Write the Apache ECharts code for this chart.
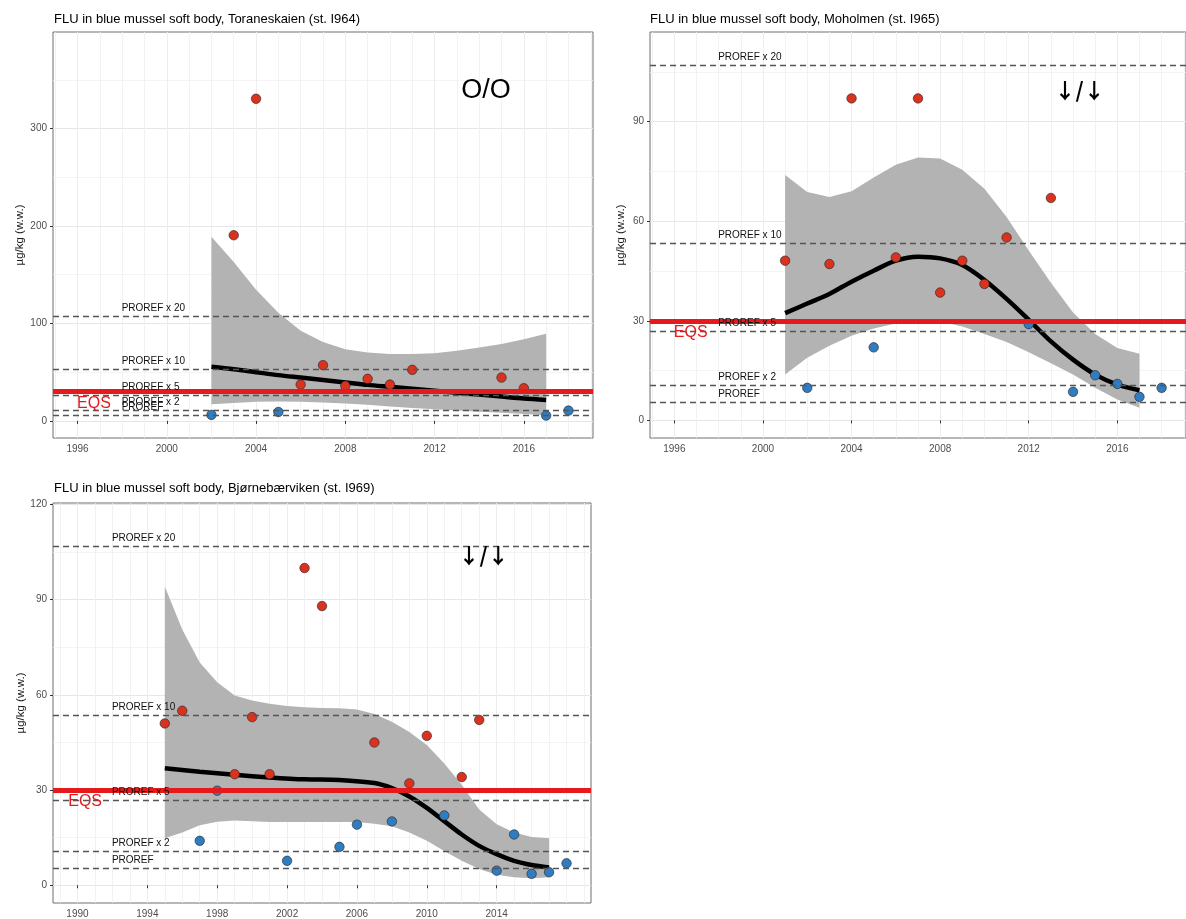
<!DOCTYPE html>
<html><head><meta charset="utf-8">
<script src="https://cdn.jsdelivr.net/npm/echarts@6/dist/echarts.min.js"></script>
<style>html,body{margin:0;padding:0;background:#fff}#c{width:1186px;height:919px}</style>
</head><body><div id="c"></div>
<script>
// ---------------- data ----------------
const titles = [
  "FLU in blue mussel soft body, Toraneskaien (st. I964)",
  "FLU in blue mussel soft body, Moholmen (st. I965)",
  "FLU in blue mussel soft body, Bjørnebærviken (st. I969)"
];
const yAxisTitle = "µg/kg (w.w.)";
const eqsValue = 30;
const prorefValues = [5.35, 10.7, 26.75, 53.5, 107];
const prorefNames = ["PROREF", "PROREF x 2", "PROREF x 5", "PROREF x 10", "PROREF x 20"];
const trendSymbols = ["O/O", "↓/↓", "↓/↓"];

// Panel 1: Toraneskaien
const p1Years  = [2002, 2003, 2004, 2005, 2006, 2007, 2008, 2009, 2010, 2011, 2015, 2016, 2017, 2018];
const p1Values = [6.2, 190.5, 330.5, 9.2, 37.3, 57.2, 36, 43.2, 37.3, 52.4, 44.5, 33.6, 5.5, 10.6];
const p1TrendYears = [2002, 2003, 2004, 2005, 2006, 2007, 2008, 2009, 2010, 2011, 2012, 2013, 2014, 2015, 2016, 2017];
const p1Trend      = [55.5, 53, 50, 47, 44.5, 42, 39.5, 37, 35, 33, 31, 29, 27, 25, 23, 21.5];
const p1Upper      = [189, 163, 134.5, 111, 92.5, 81, 73.6, 70.2, 68.8, 68.8, 69.5, 71.9, 75.3, 79, 83.9, 89.4];
const p1Lower      = [17, 18.5, 19.8, 20, 19.8, 19, 18, 16.5, 14.7, 13.3, 12, 10.7, 9.5, 8.3, 7.2, 5.8];

// Panel 2: Moholmen
const p2Years  = [2001, 2002, 2003, 2004, 2005, 2006, 2007, 2008, 2009, 2010, 2011, 2012, 2013, 2014, 2015, 2016, 2017, 2018];
const p2Values = [48.1, 9.8, 47.1, 97, 22, 49.1, 97, 38.5, 48.1, 41.1, 55.1, 29, 67, 8.6, 13.6, 11, 7.1, 9.8];
const p2TrendYears = [2001, 2002, 2003, 2004, 2005, 2006, 2007, 2008, 2009, 2010, 2011, 2012, 2013, 2014, 2015, 2016, 2017];
const p2Trend      = [32.3, 35.2, 38.1, 41.8, 45.1, 48.1, 49.3, 48.8, 46.8, 42.3, 36.6, 30.3, 23.8, 18.3, 13.8, 10.8, 9.1];
const p2Upper      = [73.9, 68.8, 67.3, 69, 73.2, 77, 79.2, 78.9, 75.5, 69.8, 61.3, 51.2, 41.5, 32.5, 26, 21.8, 20.1];
const p2Lower      = [13.8, 18.9, 22.5, 25.5, 27.7, 29.2, 29.9, 29.8, 28.3, 26, 23.6, 20.5, 17.2, 13.8, 9.8, 6.3, 3.8];

// Panel 3: Bjørnebærviken
const p3Years  = [1995, 1996, 1997, 1998, 1999, 2000, 2001, 2002, 2003, 2004, 2005, 2006, 2007, 2008, 2009, 2010, 2011, 2012, 2013, 2014, 2015, 2016, 2017, 2018];
const p3Values = [51, 55, 14, 29.8, 35, 53, 35, 7.7, 100, 88, 12.1, 19.1, 45, 20.1, 32.1, 47.1, 22, 34.1, 52.1, 4.6, 16, 3.6, 4.1, 6.9];
const p3TrendYears = [1995, 1997, 1999, 2001, 2003, 2005, 2007, 2008, 2009, 2010, 2011, 2012, 2013, 2014, 2015, 2016, 2017];
const p3Trend      = [36.9, 35.8, 34.8, 34, 33.4, 33.2, 32.2, 30.6, 28, 24.4, 20.2, 16, 12.4, 9.8, 7.7, 6.4, 5.6];
const p3BandYears  = [1995, 1996, 1997, 1998, 1999, 2000, 2001, 2002, 2003, 2004, 2005, 2006, 2007, 2008, 2009, 2010, 2011, 2012, 2013, 2014, 2015, 2016, 2017];
const p3Upper      = [94.2, 80.6, 70.2, 64, 59.8, 58.2, 57.2, 56.5, 56.1, 55.9, 55.8, 55.4, 54, 51.5, 48.3, 44.2, 38.4, 31.7, 23.9, 19.2, 16.6, 15.2, 14.8];
const p3Lower      = [14.8, 16.6, 18.9, 20, 20.4, 20.2, 19.9, 19.9, 19.9, 19.9, 19.9, 19.9, 19.4, 18.6, 16.6, 14, 10.8, 7.7, 5.1, 3.3, 2.5, 2.2, 2.5];

// tick labels and grid lines
const xTicksA = [1996, 2000, 2004, 2008, 2012, 2016];
const xMinorA = [1995, 1996, 1997, 1998, 1999, 2000, 2001, 2002, 2003, 2004, 2005, 2006, 2007, 2008, 2009, 2010, 2011, 2012, 2013, 2014, 2015, 2016, 2017, 2018, 2019];
const xTicksB = [1990, 1994, 1998, 2002, 2006, 2010, 2014];
const xMinorB = [1989, 1990, 1991, 1992, 1993, 1994, 1995, 1996, 1997, 1998, 1999, 2000, 2001, 2002, 2003, 2004, 2005, 2006, 2007, 2008, 2009, 2010, 2011, 2012, 2013, 2014, 2015, 2016, 2017, 2018, 2019];
const yTicks1 = [0, 100, 200, 300];
const yMinor1 = [50, 150, 250, 350];
const yTicks2 = [0, 30, 60, 90];
const yMinor2 = [15, 45, 75, 105];
const yTicks3 = [0, 30, 60, 90, 120];
const yMinor3 = [15, 45, 75, 105];

// ---------------- layout / style ----------------
const FONT = "Liberation Sans, Arial, sans-serif";
const ARROWFONT = "Noto Sans CJK SC, DejaVu Sans, sans-serif";
const RED = "#D93320", BLUE = "#2F7DC0";
const panels = [
  { title: titles[0], years: p1Years, values: p1Values, tY: p1TrendYears, tV: p1Trend, bY: p1TrendYears, bU: p1Upper, bL: p1Lower,
    xMin: 1994.9, xMax: 2019.1, yMin: -17.5, yMax: 399, xTicks: xTicksA, xMinor: xMinorA, yTicks: yTicks1, yMinor: yMinor1,
    grid: { left: 53, top: 32, width: 540, height: 406 }, titlePos: { left: 54, top: 12 }, nameGap: 27,
    prorefX: 1998, eqsX: 1996, arrow: [2014.3, 339], arrowSize: 27, arrowFont: FONT, arrowWeight: "normal" },
  { title: titles[1], years: p2Years, values: p2Values, tY: p2TrendYears, tV: p2Trend, bY: p2TrendYears, bU: p2Upper, bL: p2Lower,
    xMin: 1994.9, xMax: 2019.1, yMin: -5.3, yMax: 117, xTicks: xTicksA, xMinor: xMinorA, yTicks: yTicks2, yMinor: yMinor2,
    grid: { left: 650, top: 32, width: 542, height: 406 }, titlePos: { left: 650, top: 12 }, nameGap: 23,
    prorefX: 1998, eqsX: 1996, arrow: [2014.3, 99.4], arrowSize: 21, arrowFont: ARROWFONT, arrowWeight: "bold" },
  { title: titles[2], years: p3Years, values: p3Values, tY: p3TrendYears, tV: p3Trend, bY: p3BandYears, bU: p3Upper, bL: p3Lower,
    xMin: 1988.6, xMax: 2019.4, yMin: -5.6, yMax: 120.5, xTicks: xTicksB, xMinor: xMinorB, yTicks: yTicks3, yMinor: yMinor3,
    grid: { left: 53, top: 503, width: 538, height: 403 }, titlePos: { left: 54, top: 481 }, nameGap: 23,
    prorefX: 1992, eqsX: 1989.5, arrow: [2013.25, 104], arrowSize: 21, arrowFont: ARROWFONT, arrowWeight: "bold" }
];

const fmt = v => String(v);
const grids = [], xAxes = [], yAxes = [], series = [], titleOpts = [];

panels.forEach((p, i) => {
  grids.push(Object.assign({ show: true, borderColor: "#6e6e6e", borderWidth: 1, backgroundColor: "#fff" }, p.grid));
  titleOpts.push({ text: p.title, left: p.titlePos.left, top: p.titlePos.top, padding: 0,
    textStyle: { fontSize: 13, fontWeight: "normal", color: "#000", fontFamily: FONT, lineHeight: 14 } });

  xAxes.push({ type: "value", gridIndex: i, min: p.xMin, max: p.xMax, position: "bottom",
    axisLine: { show: false },
    axisTick: { show: true, length: 3, customValues: p.xTicks, lineStyle: { color: "#333", width: 1 } },
    axisLabel: { customValues: p.xTicks, formatter: fmt, color: "#4D4D4D", fontSize: 10, margin: 6, fontFamily: FONT },
    splitLine: { show: true, lineStyle: { color: "#E6E6E6", width: 1 } } });
  xAxes.push({ type: "value", gridIndex: i, min: p.xMin, max: p.xMax, position: "top",
    axisLine: { show: false }, axisTick: { show: false, customValues: p.xMinor }, axisLabel: { show: false },
    splitLine: { show: true, lineStyle: { color: "#EFEFEF", width: 0.8 } } });

  yAxes.push({ type: "value", gridIndex: i, min: p.yMin, max: p.yMax, position: "left",
    name: yAxisTitle, nameLocation: "middle", nameGap: p.nameGap, nameRotate: 90,
    nameTextStyle: { fontSize: 11.5, color: "#1a1a1a", fontFamily: FONT },
    axisLine: { show: false },
    axisTick: { show: true, length: 3, customValues: p.yTicks, lineStyle: { color: "#333", width: 1 } },
    axisLabel: { customValues: p.yTicks, formatter: fmt, color: "#4D4D4D", fontSize: 10, margin: 6, fontFamily: FONT },
    splitLine: { show: true, lineStyle: { color: "#E6E6E6", width: 1 } } });
  yAxes.push({ type: "value", gridIndex: i, min: p.yMin, max: p.yMax, position: "right",
    axisLine: { show: false }, axisTick: { show: false, customValues: p.yMinor }, axisLabel: { show: false },
    splitLine: { show: true, lineStyle: { color: "#F1F1F1", width: 0.8 } } });

  const xi = 2 * i, yi = 2 * i;

  // confidence band
  series.push({ type: "custom", xAxisIndex: xi, yAxisIndex: yi, z: 1, silent: true,
    data: p.bY.map((yr, k) => [yr, p.bL[k], p.bU[k]]),
    encode: { x: 0, y: [1, 2] },
    renderItem: function (params, api) {
      if (params.dataIndex !== 0) return null;
      const up = p.bY.map((yr, k) => api.coord([yr, p.bU[k]]));
      const lo = p.bY.map((yr, k) => api.coord([yr, p.bL[k]])).reverse();
      return { type: "polygon", shape: { points: up.concat(lo) }, style: { fill: "#B3B3B3" } };
    } });

  // PROREF dashed lines
  series.push({ type: "line", xAxisIndex: xi, yAxisIndex: yi, z: 2, data: [], silent: true,
    markLine: { silent: true, symbol: "none", label: { show: false },
      lineStyle: { color: "#555", type: [6, 4], width: 1.3, opacity: 1 },
      data: prorefValues.map(v => ({ yAxis: v })) } });

  // trend line
  series.push({ type: "line", xAxisIndex: xi, yAxisIndex: yi, z: 3, silent: true, smooth: 0.3,
    showSymbol: false, symbol: "none", lineStyle: { color: "#000", width: 4.5 },
    data: p.tY.map((yr, k) => [yr, p.tV[k]]) });

  // observed points
  const pts = p.years.map((yr, k) => [yr, p.values[k]]);
  series.push({ type: "scatter", xAxisIndex: xi, yAxisIndex: yi, z: 4, silent: true, symbolSize: 9.5,
    itemStyle: { color: RED, borderColor: "#222", borderWidth: 0.6, opacity: 1 },
    data: pts.filter(d => d[1] > eqsValue) });
  series.push({ type: "scatter", xAxisIndex: xi, yAxisIndex: yi, z: 4, silent: true, symbolSize: 9.5,
    itemStyle: { color: BLUE, borderColor: "#222", borderWidth: 0.6, opacity: 1 },
    data: pts.filter(d => d[1] <= eqsValue) });

  // EQS line
  series.push({ type: "line", xAxisIndex: xi, yAxisIndex: yi, z: 5, data: [], silent: true,
    markLine: { silent: true, symbol: "none", label: { show: false },
      lineStyle: { color: "#E41A1C", type: "solid", width: 5, opacity: 1 },
      data: [{ yAxis: eqsValue }] } });

  // PROREF labels
  series.push({ type: "scatter", xAxisIndex: xi, yAxisIndex: yi, z: 6, silent: true, symbolSize: 1,
    itemStyle: { color: "rgba(0,0,0,0)", opacity: 1 },
    data: prorefValues.map((v, k) => [p.prorefX, v, prorefNames[k]]),
    label: { show: true, position: "right", distance: 0, offset: [-1, -8], formatter: d => d.data[2],
      fontSize: 10, color: "#111", fontFamily: FONT } });

  // EQS label
  series.push({ type: "scatter", xAxisIndex: xi, yAxisIndex: yi, z: 6, silent: true, symbolSize: 1,
    itemStyle: { color: "rgba(0,0,0,0)", opacity: 1 },
    data: [[p.eqsX, eqsValue, "EQS"]],
    label: { show: true, position: "right", distance: 0, offset: [-1, 12], formatter: d => d.data[2],
      fontSize: 16, color: "#E41A1C", fontFamily: FONT } });

  // trend symbol
  series.push({ type: "scatter", xAxisIndex: xi, yAxisIndex: yi, z: 6, silent: true, symbolSize: 1,
    itemStyle: { color: "rgba(0,0,0,0)", opacity: 1 },
    data: [[p.arrow[0], p.arrow[1], trendSymbols[i]]],
    label: { show: true, position: "inside", formatter: d => d.data[2],
      fontSize: p.arrowSize, fontWeight: p.arrowWeight, color: "#000", fontFamily: p.arrowFont } });
});

const chart = echarts.init(document.getElementById("c"), null, { renderer: "canvas" });
chart.setOption({
  backgroundColor: "#fff",
  animation: false,
  title: titleOpts,
  grid: grids,
  xAxis: xAxes,
  yAxis: yAxes,
  series: series
});
</script>
</body></html>
